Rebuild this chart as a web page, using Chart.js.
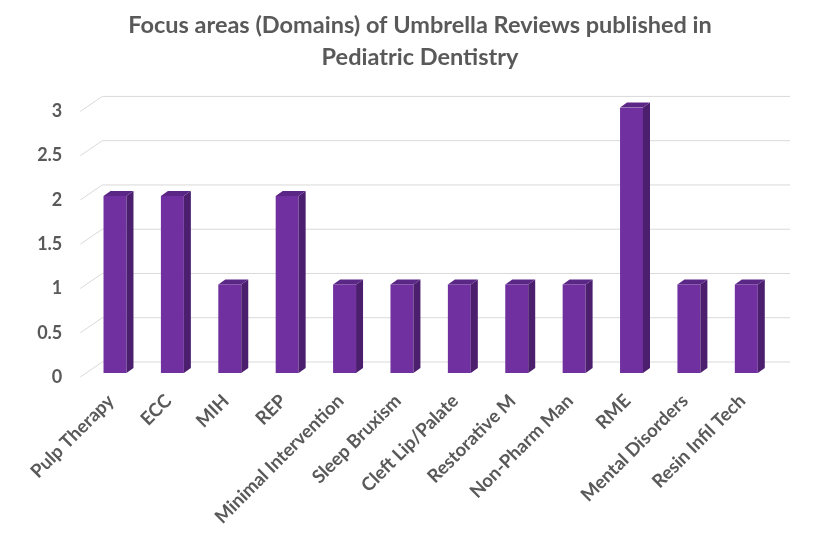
<!DOCTYPE html>
<html>
<head>
<meta charset="utf-8">
<script src="https://cdn.jsdelivr.net/npm/chart.js@4"></script>
<style>
html,body{margin:0;padding:0;background:#fff;}
#wrap{width:822px;height:548px;position:relative;}
</style>
</head>
<body>
<div id="wrap"><canvas id="c" width="822" height="548"></canvas></div>
<script>
const categories = ["Pulp Therapy","ECC","MIH","REP","Minimal Intervention","Sleep Bruxism","Cleft Lip/Palate","Restorative M","Non-Pharm Man","RME","Mental Disorders","Resin Infil Tech"];
const reviewCounts = [2,2,1,2,1,1,1,1,1,3,1,1];
const yTicks = [0,0.5,1,1.5,2,2.5,3];
const titleLines = ["Focus areas (Domains) of Umbrella Reviews published in","Pediatric Dentistry"];

const FRONT = '#7030A0', SIDE = '#4B1F6E', TOP = '#5B2787';
const DX = 7, DY = -5;

const depthPlugin = {
  id: 'depth3d',
  beforeDatasetsDraw(chart) {
    const ctx = chart.ctx, ys = chart.scales.y, ca = chart.chartArea;
    ctx.save();
    ctx.strokeStyle = '#d9d9d9';
    ctx.lineWidth = 1;
    yTicks.forEach(v => {
      const p = ys.getPixelForValue(v);
      ctx.beginPath();
      ctx.moveTo(ca.left - 6, p + 4);
      ctx.lineTo(ca.left + 16, p - 11);
      ctx.lineTo(ca.right + 15, p - 11);
      ctx.stroke();
    });
    ctx.restore();
  },
  afterDatasetsDraw(chart) {
    const ctx = chart.ctx;
    const meta = chart.getDatasetMeta(0);
    ctx.save();
    meta.data.forEach(bar => {
      const p = bar.getProps(['x','y','width','base'], true);
      const l = p.x - p.width/2, r = p.x + p.width/2;
      ctx.fillStyle = SIDE;
      ctx.beginPath();
      ctx.moveTo(r, p.y); ctx.lineTo(r+DX, p.y+DY); ctx.lineTo(r+DX, p.base+DY); ctx.lineTo(r, p.base);
      ctx.closePath(); ctx.fill();
      ctx.fillStyle = TOP;
      ctx.beginPath();
      ctx.moveTo(l, p.y); ctx.lineTo(l+DX, p.y+DY); ctx.lineTo(r+DX, p.y+DY); ctx.lineTo(r, p.y);
      ctx.closePath(); ctx.fill();
    });
    ctx.restore();
  }
};

new Chart(document.getElementById('c'), {
  type: 'bar',
  data: {
    labels: categories,
    datasets: [{
      data: reviewCounts,
      backgroundColor: FRONT,
      borderWidth: 0,
      barPercentage: 0.4,
      categoryPercentage: 1.0
    }]
  },
  options: {
    responsive: false,
    animation: false,
    devicePixelRatio: 1,
    layout: { padding: { left: 18, right: 0, top: 0, bottom: 0 } },
    plugins: {
      legend: { display: false },
      tooltip: { enabled: false },
      title: {
        display: true,
        text: titleLines,
        color: '#595959',
        font: { family: 'Lato', size: 23.5, weight: 'bold', lineHeight: 1.36 },
        padding: { top: 9, bottom: 34.5 }
      }
    },
    scales: {
      x: {
        grid: { display: false, drawTicks: false },
        border: { display: false },
        ticks: {
          autoSkip: false, minRotation: 45, maxRotation: 45,
          color: '#595959', padding: 17, labelOffset: -4,
          font: { family: 'Lato', size: 18.5, weight: 'bold' }
        },
        afterFit(s) { s.height = 175; }
      },
      y: {
        min: 0, max: 3,
        grid: { display: false, drawTicks: false },
        border: { display: false },
        afterBuildTicks(s) { s.ticks = yTicks.map(v => ({ value: v })); },
        ticks: {
          color: '#595959', padding: 24, labelOffset: 4,
          font: { family: 'Lato', size: 18, weight: 'bold' },
          callback: v => String(v)
        },
        afterFit(s) { s.width = 68.3; }
      },
      yr: {
        position: 'right',
        display: true,
        grid: { display: false, drawTicks: false },
        border: { display: false },
        ticks: { display: false },
        afterFit(s) { s.width = 47; }
      }
    }
  },
  plugins: [depthPlugin]
});
</script>
</body>
</html>
